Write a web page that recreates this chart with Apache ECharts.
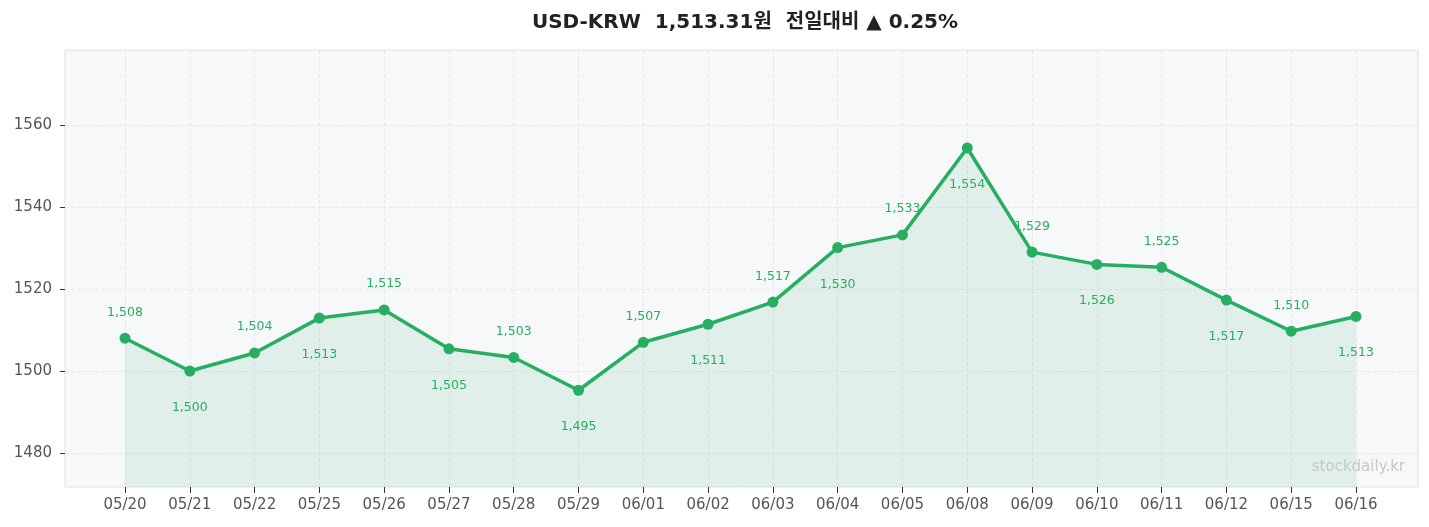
<!DOCTYPE html>
<html>
<head>
<meta charset="utf-8">
<script src="https://cdn.jsdelivr.net/npm/echarts@6/dist/echarts.min.js"></script>
<style>
  html, body { margin: 0; padding: 0; background: #fff; }
  #chart { width: 1429px; height: 527px; }
</style>
</head>
<body>
<div id="chart"></div>
<script>
// data
const dates = ['05/20', '05/21', '05/22', '05/25', '05/26', '05/27', '05/28', '05/29', '06/01', '06/02',
               '06/03', '06/04', '06/05', '06/08', '06/09', '06/10', '06/11', '06/12', '06/15', '06/16'];
const rates = [1508.0, 1500.0, 1504.4, 1512.9, 1514.9, 1505.4, 1503.3, 1495.3, 1507.0, 1511.4,
               1516.8, 1530.1, 1533.2, 1554.4, 1529.0, 1526.0, 1525.3, 1517.3, 1509.7, 1513.31];
const yTicks = [1480, 1500, 1520, 1540, 1560];
const yMin = 1471.7;
const yMax = 1578.3;
const titleText = 'USD-KRW  1,513.31원  전일대비 ▲ 0.25%';
const watermark = 'stockdaily.kr';

const green = '#27ae60';
const font = '"DejaVu Sans", "Noto Sans CJK KR", sans-serif';

const chart = echarts.init(document.getElementById('chart'));

const fmt = (v) => Math.round(v).toLocaleString('en-US');

const option = {
  animation: false,
  textStyle: { fontFamily: font },
  title: {
    text: titleText,
    left: 740,
    top: 8,
    textAlign: 'center',
    textStyle: { fontSize: 20, fontWeight: 600, color: '#222', fontFamily: font }
  },
  graphic: [{
    type: 'text',
    right: 24,
    top: 460,
    z: 100,
    style: { text: watermark, fontSize: 15, fill: '#c3c8cc', fontFamily: font }
  }],
  grid: [
    // background frame, y labels and horizontal grid lines
    { left: 65, right: 11, top: 50, bottom: 40, show: true, backgroundColor: '#f7f8fa', borderColor: '#dde1e6', borderWidth: 1 },
    // the plotted series
    { left: 125, right: 73, top: 50, bottom: 40 }
  ],
  xAxis: [
    { type: 'value', gridIndex: 0, show: false, min: 0, max: 1 },
    {
      type: 'category',
      gridIndex: 1,
      data: dates,
      boundaryGap: false,
      axisLine: { show: false },
      axisTick: { show: true, length: 6, lineStyle: { color: '#333' } },
      axisLabel: { color: '#555', fontSize: 15, margin: 11 },
      splitLine: { show: true, lineStyle: { color: '#e6e8eb', type: 'dashed' } }
    }
  ],
  yAxis: [
    {
      type: 'value',
      gridIndex: 0,
      min: yMin,
      max: yMax,
      axisLine: { show: false },
      axisTick: { show: true, length: 5, customValues: yTicks, lineStyle: { color: '#333' } },
      axisLabel: { color: '#555', fontSize: 15, margin: 13, customValues: yTicks, formatter: (v) => String(v) },
      splitLine: { show: true, lineStyle: { color: '#e6e8eb', type: 'dashed' } }
    },
    { type: 'value', gridIndex: 1, min: yMin, max: yMax, show: false, splitLine: { show: false } }
  ],
  series: [{
    type: 'line',
    xAxisIndex: 1,
    yAxisIndex: 1,
    data: rates.map((v, i) => ({
      value: v,
      label: i % 2 === 0 ? { position: 'top', distance: 14 } : { position: 'bottom', distance: 25 }
    })),
    symbol: 'circle',
    symbolSize: 11,
    lineStyle: { color: green, width: 3.5 },
    itemStyle: { color: green },
    areaStyle: { color: 'rgba(39,174,96,0.15)', origin: 'start' },
    label: {
      show: true,
      color: green,
      fontSize: 12.5,
      fontFamily: font,
      formatter: (p) => fmt(p.value)
    }
  }]
};

chart.setOption(option);
window.addEventListener('resize', () => chart.resize());
</script>
</body>
</html>
